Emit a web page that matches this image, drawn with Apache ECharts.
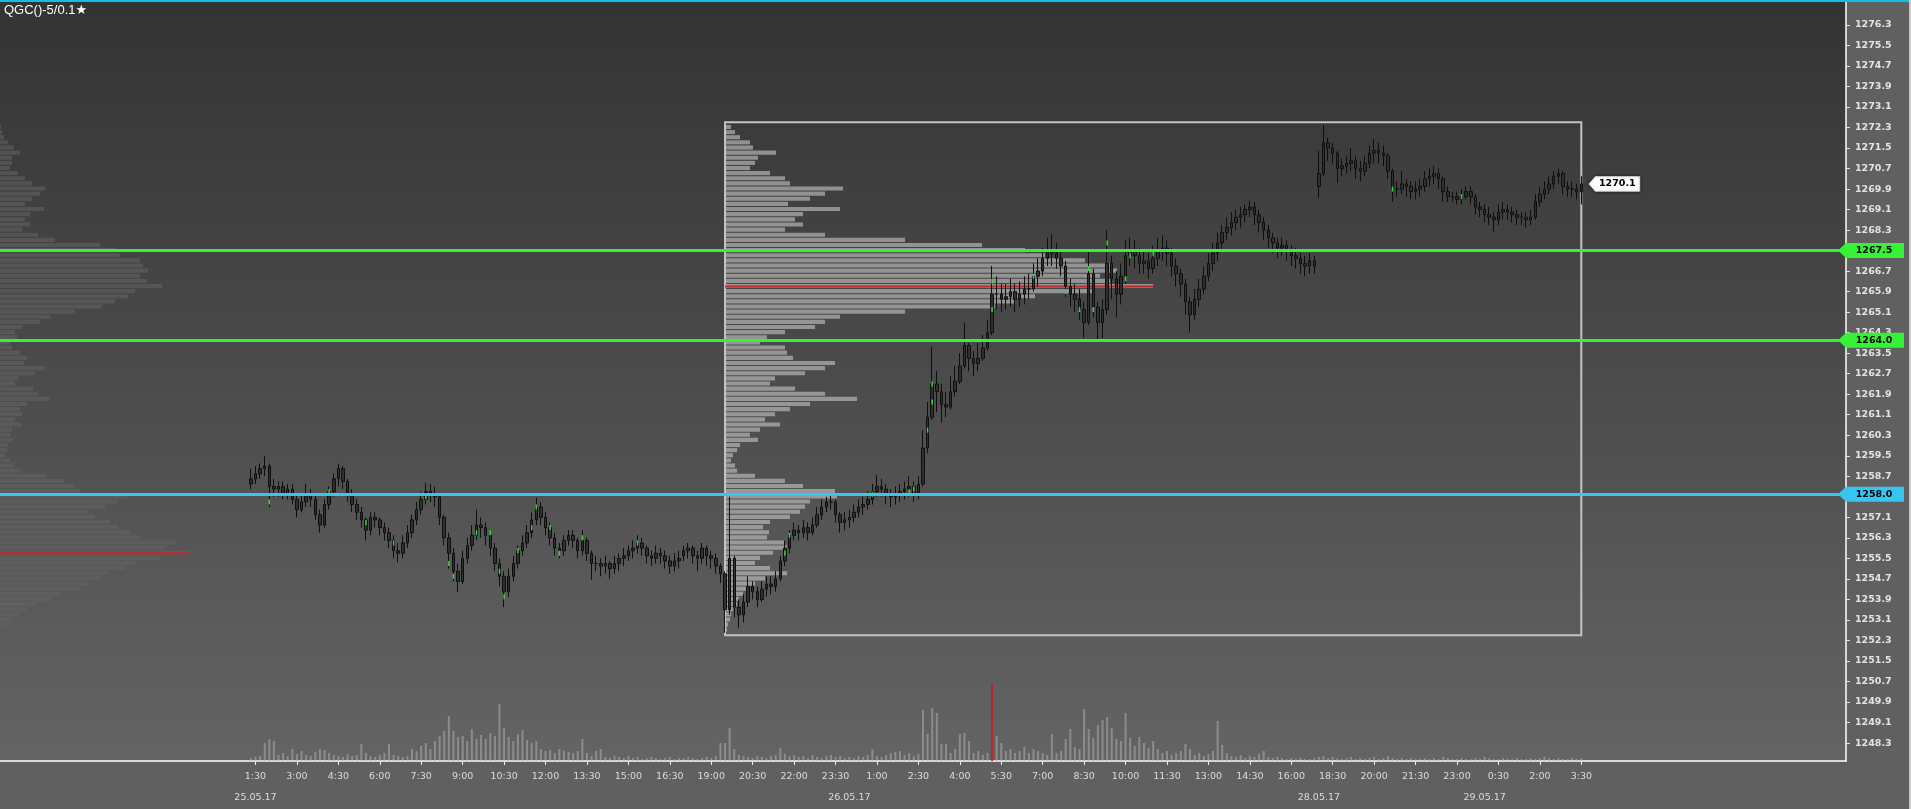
<!DOCTYPE html>
<html><head><meta charset="utf-8">
<script src="https://cdn.jsdelivr.net/npm/echarts@6/dist/echarts.min.js"></script>
<style>html,body{margin:0;padding:0;background:#606060;overflow:hidden}#c{width:1911px;height:809px}</style>
</head><body><div id="c"></div><script>
// ---------------- DATA ----------------
const sessions = [
  {startDate:'25.05.17', start:'01:20', bars:94},
  {startDate:'25.05.17', start:'18:00', bars:138},
  {startDate:'28.05.17', start:'18:00', bars:58}
];
const timeTickLabels = ['1:30','3:00','4:30','6:00','7:30','9:00','10:30','12:00','13:30','15:00','16:30','19:00','20:30','22:00','23:30','1:00','2:30','4:00','5:30','7:00','8:30','10:00','11:30','13:00','14:30','16:00','18:30','20:00','21:30','23:00','0:30','2:00','3:30'];
const dateLabels = ['25.05.17','26.05.17','28.05.17','29.05.17'];
const yTickValues = [1248.3,1249.1,1249.9,1250.7,1251.5,1252.3,1253.1,1253.9,1254.7,1255.5,1256.3,1257.1,1257.9,1258.7,1259.5,1260.3,1261.1,1261.9,1262.7,1263.5,1264.3,1265.1,1265.9,1266.7,1267.5,1268.3,1269.1,1269.9,1270.7,1271.5,1272.3,1273.1,1273.9,1274.7,1275.5,1276.3];

// [open, close, low, high] per 10-minute bar
const day1Bars = [
[1258.4,1258.6,1258.2,1259.0],[1258.6,1258.8,1258.4,1259.1],[1258.8,1259.0,1258.6,1259.2],[1259.0,1259.1,1258.7,1259.5],[1259.1,1258.3,1257.5,1259.2],
[1258.3,1258.2,1257.9,1258.6],[1258.2,1258.3,1257.9,1258.5],[1258.3,1258.0,1257.8,1258.5],[1258.0,1258.2,1257.8,1258.4],[1258.2,1257.8,1257.6,1258.4],
[1257.8,1257.4,1257.1,1258.0],[1257.4,1257.7,1257.3,1258.0],[1257.7,1258.0,1257.5,1258.4],[1258.0,1257.8,1257.5,1258.2],[1257.8,1257.2,1257.0,1258.0],
[1257.2,1256.8,1256.5,1257.4],[1256.8,1257.6,1256.7,1257.8],[1257.6,1258.1,1257.4,1258.3],[1258.1,1258.6,1257.9,1258.8],[1258.6,1259.0,1258.3,1259.2],
[1259.0,1258.5,1258.2,1259.1],[1258.5,1258.0,1257.7,1258.6],[1258.0,1257.6,1257.3,1258.2],[1257.6,1257.3,1257.0,1257.8],[1257.3,1257.0,1256.7,1257.5],
[1257.0,1256.6,1256.2,1257.1],[1256.6,1257.1,1256.4,1257.3],[1257.1,1257.0,1256.7,1257.3],[1257.0,1256.7,1256.4,1257.1],[1256.7,1256.5,1256.2,1256.9],
[1256.5,1256.2,1255.9,1256.7],[1256.2,1255.8,1255.5,1256.4],[1255.8,1255.7,1255.35,1256.1],[1255.7,1256.1,1255.5,1256.4],[1256.1,1256.5,1255.9,1256.8],
[1256.5,1257.0,1256.3,1257.2],[1257.0,1257.4,1256.8,1257.7],[1257.4,1257.8,1257.2,1258.1],[1257.8,1258.1,1257.6,1258.45],[1258.1,1258.0,1257.7,1258.4],
[1258.0,1257.9,1257.5,1258.3],[1257.9,1257.1,1256.8,1258.0],[1257.1,1256.3,1256.0,1257.2],[1256.3,1255.7,1255.1,1256.5],[1255.7,1255.0,1254.6,1255.9],
[1255.0,1254.6,1254.2,1255.3],[1254.6,1255.5,1254.5,1255.8],[1255.5,1256.0,1255.3,1256.3],[1256.0,1256.4,1255.8,1256.8],[1256.4,1256.8,1256.2,1257.4],
[1256.8,1256.7,1256.3,1257.1],[1256.7,1256.4,1256.0,1256.9],[1256.4,1255.9,1255.6,1256.6],[1255.9,1255.3,1255.0,1256.1],[1255.3,1254.8,1254.4,1255.5],
[1254.8,1254.2,1253.6,1255.0],[1254.2,1254.8,1254.0,1255.1],[1254.8,1255.3,1254.6,1255.6],[1255.3,1255.8,1255.1,1256.0],[1255.8,1256.1,1255.6,1256.4],
[1256.1,1256.5,1255.9,1256.8],[1256.5,1257.0,1256.3,1257.3],[1257.0,1257.5,1256.8,1257.86],[1257.5,1257.1,1256.8,1257.7],[1257.1,1256.7,1256.4,1257.3],
[1256.7,1256.3,1256.0,1256.9],[1256.3,1255.9,1255.6,1256.5],[1255.9,1255.8,1255.5,1256.1],[1255.8,1256.2,1255.6,1256.4],[1256.2,1256.4,1256.0,1256.6],
[1256.4,1256.2,1255.9,1256.6],[1256.2,1255.8,1255.5,1256.3],[1255.8,1256.2,1255.6,1256.6],[1256.2,1255.7,1255.4,1256.3],[1255.7,1255.3,1254.67,1255.8],
[1255.3,1255.3,1255.0,1255.6],[1255.3,1255.2,1254.8,1255.5],[1255.2,1255.3,1254.9,1255.6],[1255.3,1255.1,1254.7,1255.4],[1255.1,1255.3,1254.9,1255.6],
[1255.3,1255.5,1255.0,1255.7],[1255.5,1255.6,1255.2,1255.9],[1255.6,1255.8,1255.4,1256.0],[1255.8,1255.9,1255.5,1256.2],[1255.9,1256.1,1255.7,1256.4],
[1256.1,1255.9,1255.6,1256.3],[1255.9,1255.6,1255.3,1256.0],[1255.6,1255.5,1255.2,1255.8],[1255.5,1255.7,1255.3,1256.0],[1255.7,1255.6,1255.3,1255.9],
[1255.6,1255.4,1255.1,1255.8],[1255.4,1255.2,1254.9,1255.6],[1255.2,1255.4,1255.0,1255.7],[1255.4,1255.5,1255.1,1255.8]
];
const day2Bars = [
[1255.6,1255.8,1255.4,1256.0],[1255.8,1255.9,1255.5,1256.1],[1255.9,1255.6,1255.3,1256.0],[1255.6,1255.5,1255.0,1255.8],[1255.5,1255.9,1255.3,1256.1],
[1255.9,1255.6,1255.2,1256.0],[1255.6,1255.5,1255.1,1255.8],[1255.5,1255.2,1254.9,1255.7],[1255.2,1254.9,1254.55,1255.3],[1254.9,1253.5,1252.6,1255.0],
[1253.5,1255.5,1253.3,1257.9],[1255.5,1253.6,1253.2,1255.6],[1253.6,1253.3,1252.8,1253.9],[1253.3,1253.8,1253.0,1254.1],[1253.8,1254.4,1253.6,1254.8],
[1254.4,1254.2,1253.9,1254.6],[1254.2,1253.9,1253.6,1254.4],[1253.9,1254.3,1253.8,1254.6],[1254.3,1254.5,1254.0,1254.8],[1254.5,1254.4,1254.1,1254.8],
[1254.4,1254.7,1254.2,1255.0],[1254.7,1255.4,1254.6,1255.6],[1255.4,1255.9,1255.2,1256.2],[1255.9,1256.4,1255.7,1256.6],[1256.4,1256.6,1256.2,1256.9],
[1256.6,1256.5,1256.2,1256.8],[1256.5,1256.7,1256.3,1257.0],[1256.7,1256.5,1256.2,1256.9],[1256.5,1256.8,1256.4,1257.1],[1256.8,1257.2,1256.7,1257.5],
[1257.2,1257.5,1257.0,1257.8],[1257.5,1257.7,1257.3,1257.9],[1257.7,1257.7,1257.4,1258.05],[1257.7,1257.2,1256.9,1257.8],[1257.2,1256.9,1256.5,1257.3],
[1256.9,1257.0,1256.6,1257.3],[1257.0,1257.1,1256.7,1257.4],[1257.1,1257.3,1256.9,1257.6],[1257.3,1257.5,1257.1,1257.8],[1257.5,1257.6,1257.2,1257.9],
[1257.6,1257.8,1257.4,1258.1],[1257.8,1258.1,1257.6,1258.4],[1258.1,1258.3,1257.9,1258.75],[1258.3,1258.2,1257.9,1258.6],[1258.2,1258.0,1257.6,1258.4],
[1258.0,1257.9,1257.5,1258.2],[1257.9,1258.0,1257.6,1258.3],[1258.0,1258.1,1257.7,1258.4],[1258.1,1258.2,1257.8,1258.5],[1258.2,1258.3,1257.9,1258.7],
[1258.3,1258.0,1257.7,1258.5],[1258.0,1258.4,1257.8,1258.7],[1258.4,1259.8,1258.3,1260.5],[1259.8,1261.0,1259.6,1261.6],[1261.0,1262.3,1260.9,1263.75],
[1262.3,1262.0,1261.2,1262.8],[1262.0,1261.5,1260.8,1262.3],[1261.5,1261.4,1261.0,1262.0],[1261.4,1262.0,1261.3,1262.6],[1262.0,1262.4,1261.8,1263.0],
[1262.4,1263.0,1262.3,1263.5],[1263.0,1263.8,1262.9,1264.7],[1263.8,1263.3,1262.8,1263.9],[1263.3,1263.1,1262.6,1263.6],[1263.1,1263.3,1262.8,1263.9],
[1263.3,1263.7,1263.2,1264.2],[1263.7,1264.3,1263.6,1264.8],[1264.3,1265.8,1264.2,1266.9],[1265.8,1265.8,1265.2,1266.5],[1265.8,1265.6,1265.1,1266.2],
[1265.6,1265.7,1265.2,1266.2],[1265.7,1265.9,1265.3,1266.4],[1265.9,1265.6,1265.1,1266.2],[1265.6,1265.8,1265.3,1266.3],[1265.8,1266.0,1265.4,1266.5],
[1266.0,1266.0,1265.6,1266.6],[1266.0,1266.5,1265.9,1267.0],[1266.5,1266.7,1266.1,1267.2],[1266.7,1267.2,1266.5,1267.6],[1267.2,1267.5,1266.9,1268.0],
[1267.5,1267.4,1266.9,1268.15],[1267.4,1267.2,1266.8,1267.8],[1267.2,1266.9,1266.5,1267.5],[1266.9,1266.1,1265.7,1267.1],[1266.1,1265.8,1265.3,1266.4],
[1265.8,1265.6,1265.1,1266.2],[1265.6,1265.2,1264.8,1266.0],[1265.2,1264.7,1264.1,1265.5],[1264.7,1266.6,1264.6,1267.5],[1266.6,1265.3,1264.9,1266.8],
[1265.3,1264.7,1264.0,1265.5],[1264.7,1265.2,1264.1,1265.6],[1265.2,1267.0,1265.0,1268.3],[1267.0,1266.4,1265.6,1267.3],[1266.4,1265.8,1264.9,1266.7],
[1265.8,1266.5,1265.4,1267.0],[1266.5,1267.3,1266.2,1267.9],[1267.3,1267.5,1266.9,1268.0],[1267.5,1267.3,1266.8,1267.9],[1267.3,1267.0,1266.6,1267.6],
[1267.0,1267.1,1266.6,1267.5],[1267.1,1266.8,1266.4,1267.4],[1266.8,1267.2,1266.6,1267.7],[1267.2,1267.5,1266.9,1268.0],[1267.5,1267.6,1267.1,1268.1],
[1267.6,1267.4,1266.9,1267.9],[1267.4,1266.9,1266.5,1267.6],[1266.9,1266.6,1266.1,1267.2],[1266.6,1266.2,1265.7,1266.8],[1266.2,1265.5,1265.0,1266.4],
[1265.5,1265.0,1264.3,1265.7],[1265.0,1265.6,1264.8,1266.0],[1265.6,1266.0,1265.3,1266.4],[1266.0,1266.5,1265.8,1266.9],[1266.5,1267.0,1266.3,1267.4],
[1267.0,1267.4,1266.7,1267.8],[1267.4,1267.8,1267.1,1268.2],[1267.8,1268.2,1267.5,1268.5],[1268.2,1268.4,1267.9,1268.8],[1268.4,1268.6,1268.1,1269.0],
[1268.6,1268.8,1268.3,1269.1],[1268.8,1268.9,1268.4,1269.2],[1268.9,1269.1,1268.6,1269.3],[1269.1,1269.2,1268.8,1269.45],[1269.2,1268.9,1268.5,1269.4],
[1268.9,1268.6,1268.2,1269.1],[1268.6,1268.3,1267.9,1268.8],[1268.3,1268.0,1267.6,1268.5],[1268.0,1267.8,1267.4,1268.2],[1267.8,1267.6,1267.2,1268.0],
[1267.6,1267.7,1267.3,1268.0],[1267.7,1267.5,1267.1,1267.9],[1267.5,1267.3,1266.9,1267.7],[1267.3,1267.2,1266.8,1267.6],[1267.2,1267.0,1266.6,1267.4],
[1267.0,1266.9,1266.5,1267.3],[1266.9,1267.1,1266.6,1267.4],[1267.1,1266.9,1266.6,1267.3]
];
const day3Bars = [
[1270.0,1270.5,1269.55,1271.4],[1270.5,1271.7,1270.4,1272.4],[1271.7,1271.5,1271.0,1271.9],[1271.5,1271.3,1270.9,1271.7],[1271.3,1270.7,1270.14,1271.4],
[1270.7,1270.8,1270.4,1271.1],[1270.8,1270.9,1270.5,1271.2],[1270.9,1271.0,1270.6,1271.5],[1271.0,1270.7,1270.3,1271.2],[1270.7,1270.6,1270.2,1271.0],
[1270.6,1270.9,1270.4,1271.2],[1270.9,1271.3,1270.7,1271.6],[1271.3,1271.4,1270.9,1271.85],[1271.4,1271.3,1270.9,1271.7],[1271.3,1271.2,1270.8,1271.6],
[1271.2,1270.6,1270.3,1271.3],[1270.6,1269.9,1269.4,1270.7],[1269.9,1269.9,1269.6,1270.2],[1269.9,1270.1,1269.7,1270.6],[1270.1,1270.0,1269.6,1270.3],
[1270.0,1269.8,1269.5,1270.2],[1269.8,1269.9,1269.5,1270.2],[1269.9,1270.0,1269.6,1270.3],[1270.0,1270.3,1269.8,1270.6],[1270.3,1270.4,1270.0,1270.7],
[1270.4,1270.5,1270.1,1270.8],[1270.5,1270.3,1269.9,1270.7],[1270.3,1269.8,1269.4,1270.4],[1269.8,1269.6,1269.4,1270.0],[1269.6,1269.6,1269.4,1269.8],
[1269.6,1269.5,1269.3,1269.8],[1269.5,1269.6,1269.3,1269.9],[1269.6,1269.8,1269.5,1270.0],[1269.8,1269.6,1269.3,1270.0],[1269.6,1269.2,1268.9,1269.7],
[1269.2,1269.1,1268.8,1269.4],[1269.1,1268.9,1268.6,1269.3],[1268.9,1268.8,1268.5,1269.2],[1268.8,1268.7,1268.23,1269.0],[1268.7,1269.0,1268.5,1269.3],
[1269.0,1269.1,1268.7,1269.4],[1269.1,1269.0,1268.7,1269.3],[1269.0,1268.9,1268.6,1269.2],[1268.9,1268.8,1268.5,1269.1],[1268.8,1268.8,1268.5,1269.0],
[1268.8,1268.7,1268.4,1269.0],[1268.7,1268.8,1268.5,1269.1],[1268.8,1269.4,1268.7,1269.7],[1269.4,1269.7,1269.2,1270.0],[1269.7,1269.9,1269.5,1270.2],
[1269.9,1270.1,1269.7,1270.4],[1270.1,1270.4,1269.9,1270.6],[1270.4,1270.5,1270.1,1270.7],[1270.5,1270.0,1269.7,1270.6],[1270.0,1269.9,1269.6,1270.2],
[1269.9,1269.9,1269.6,1270.2],[1269.9,1269.8,1269.5,1270.1],[1269.8,1270.1,1269.3,1270.4]
];
// traded volume per bar (relative units)
const day1Vol = [30,40,50,180,220,200,60,80,50,120, 70,100,60,50,90,120,110,80,60,50, 40,70,50,60,170,80,50,40,60,80,
 170,60,50,40,50,120,100,150,180,120, 200,250,300,450,300,240,250,200,320,220, 260,220,280,250,570,330,240,200,270,310,
 210,180,200,120,100,110,80,120,100,90, 80,100,220,80,50,100,120,40,30,50, 40,30,50,30,40,20,30,40,30,20, 30,40,20,30];
const day2Vol = [30,40,30,20,30,40,30,50,180,180, 330,120,60,50,40,30,50,40,30,50, 60,130,70,50,60,40,50,30,60,40,
 30,50,60,40,50,30,40,30,50,40, 60,120,50,40,60,80,90,100,60,80, 50,70,510,270,530,480,170,170,80,120,
 270,280,200,80,100,60,80,780,250,180, 100,120,80,100,140,80,120,100,80,60, 270,80,100,220,320,140,120,520,320,230,
 360,410,440,330,220,200,480,230,150,240, 180,130,200,120,80,100,60,80,100,170, 120,60,80,50,70,100,400,160,80,50,
 40,60,30,50,40,70,100,40,30,40, 30,20,30,20,30,20,20,30];
const day3Vol = [40,50,30,40,30,20,30,40,20,30, 20,30,40,20,30,50,30,20,30,20, 30,20,20,30,20,30,20,40,30,20,
 20,30,20,20,30,20,40,30,20,20, 30,20,20,30,20,20,30,20,30,40, 30,20,30,20,20,30,20,30];

// volume-at-price profiles, 0.2 bins from the start price upward
const binSize = 0.2;
const leftProfileStart = 1252.8;
const leftProfileVol = [5,10,18,27,35,52,62,80,88,100, 108,125,135,160,190,165,175,140,130,118, 110,95,88,105,117,127,80,75,65,45,
 20,13,10,5,7,8,13,10,12,22, 15,22,20,27,50,38,33,15,18,35, 45,24,27,20,12,10,17,15,22,40,
 50,75,102,115,128,135,162,147,140,148, 143,140,120,115,100,55,38,22,30,25, 30,44,25,32,40,45,32,25,18,10,
 12,12,20,14,8,4,2,1];
const boxProfileStart = 1252.6;
const boxProfileVol = [2,3,5,6,8,12,14,18,25,30, 40,62,45,30,35,48,62,60,42,44, 38,45,65,75,80,85,112,110,78,60,
 30,12,10,6,8,12,15,33,25,35, 55,40,50,65,85,132,100,70,45,50, 80,100,110,68,62,60,35,42,60,90,
 100,115,180,270,290,310,370,428,385,375, 392,385,360,320,300,257,180,100,60,78, 70,78,115,63,85,100,118,65,60,45,
 25,30,33,51,28,25,15,10,6];
const profileBox = {fromBar:103, toBar:289, top:1272.5, bottom:1252.5};
const priceLevels = [1267.5, 1264.0, 1258.0];
// green cluster highlights on bars: [bar number, price]
const clusterMarks = [[4,1257.7],[17,1258.1],[25,1256.9],[31,1256.1],[38,1257.9],[43,1255.3],[44,1254.8],[49,1256.5],[52,1256.5],[54,1255.0],
 [55,1254.0],[58,1255.8],[61,1256.7],[62,1257.5],[65,1256.7],[67,1255.7],[72,1256.3],[84,1256.1],[116,1255.7],[117,1256.4],
 [135,1258.0],[143,1258.1],[144,1258.2],[147,1260.5],[148,1262.3],[148,1261.6],[161,1266.3],[161,1265.2],[170,1266.5],[177,1265.9],
 [180,1265.2],[182,1266.8],[183,1265.2],[186,1267.8],[190,1266.4],[191,1267.3],[196,1267.4],[248,1269.9],[263,1269.6]];

// ---------------- LAYOUT / STYLE ----------------
const PAD_LEFT = 54, PAD_RIGHT = 57;
const yMin = 1247.6, yMax = 1277.27;
const levelColors = ['#36f236', '#36f236', '#36c6f0'];

function buildTimes(){
  const out = [];
  sessions.forEach(s => {
    const [d, m, y] = s.startDate.split('.').map(Number);
    const t0 = Date.UTC(2000 + y, m - 1, d, +s.start.slice(0, 2), +s.start.slice(3));
    for (let k = 0; k < s.bars; k++) {
      const t = new Date(t0 + k * 600000);
      out.push({
        date: String(t.getUTCDate()).padStart(2,'0') + '.' + String(t.getUTCMonth()+1).padStart(2,'0') + '.' + String(t.getUTCFullYear() % 100),
        time: t.getUTCHours() + ':' + String(t.getUTCMinutes()).padStart(2,'0')
      });
    }
  });
  return out;
}
const barTimes = buildTimes();
const bars = day1Bars.concat(day2Bars, day3Bars);
const vols = day1Vol.concat(day2Vol, day3Vol);
const categories = [];
for (let k = 0; k < PAD_LEFT; k++) categories.push('L' + k);
barTimes.forEach(t => categories.push(t.date + ' ' + t.time));
for (let k = 0; k < PAD_RIGHT; k++) categories.push('R' + k);

const timeAt = {}, dateAt = {};
{
  let tk = 0, dk = 0, prev = null;
  barTimes.forEach((t, i) => {
    const idx = PAD_LEFT + i;
    if (tk < timeTickLabels.length && t.time === timeTickLabels[tk]) { timeAt[idx] = timeTickLabels[tk]; tk++; }
    if (t.date !== prev && dk < dateLabels.length && t.date === dateLabels[dk]) {
      const target = (barTimes[i + 1] && barTimes[i + 1].time === timeTickLabels[tk]) ? idx + 1 : idx;
      dateAt[target] = dateLabels[dk]; dk++;
    }
    prev = t.date;
  });
}

const candleData = bars.map((b, i) => [PAD_LEFT + i, b[0], b[1], b[2], b[3]]);
const maxVol = Math.max(...vols);
const volData = vols.map((v, i) => ({value: [PAD_LEFT + i, v], itemStyle: {color: v === maxVol ? '#b3282b' : 'rgba(175,175,175,0.55)'}}));
const lastClose = day3Bars[day3Bars.length - 1][1];

function profileSeries(axisIdx, start, volsArr, fill){
  const maxV = Math.max(...volsArr);
  return {
    type: 'custom', xAxisIndex: axisIdx, yAxisIndex: axisIdx, z: 2, silent: true,
    data: volsArr.map((v, k) => [+(start + k * binSize).toFixed(1), v]),
    encode: {x: 1, y: 0},
    renderItem(params, api){
      const p = api.value(0), v = api.value(1);
      const a = api.coord([0, p + binSize]);
      const b = api.coord([v, p]);
      const children = [{type: 'rect', shape: {x: a[0], y: a[1], width: b[0] - a[0], height: Math.max(1, b[1] - a[1] - 1)}, style: {fill: fill}}];
      if (v === maxV) {
        const mid = api.coord([v, p + binSize / 2]);
        children.push({type: 'rect', shape: {x: a[0], y: mid[1] - 1, width: b[0] - a[0], height: 2}, style: {fill: '#c0282b'}});
      }
      return {type: 'group', children: children};
    }
  };
}

const chart = echarts.init(document.getElementById('c'), null, {renderer: 'canvas'});
const hidden = {show: false};
const flagLabel = {show: true, position: 'inside', offset: [3, 0], formatter: (p) => p.value[1].toFixed(1),
  color: '#000', fontWeight: 'bold', fontSize: 9.5, fontFamily: 'DejaVu Sans'};
chart.setOption({
  animation: false,
  backgroundColor: '#606060',
  textStyle: {fontFamily: 'DejaVu Sans'},
  grid: [
    {left: 0, right: 65, top: 0, bottom: 48, show: true, borderWidth: 0,
     backgroundColor: new echarts.graphic.LinearGradient(0, 0, 0, 1, [{offset: 0, color: '#333333'}, {offset: 1, color: '#646464'}])},
    {left: 0, right: 65, bottom: 48, height: 90},
    {left: 0, width: 250, top: 0, bottom: 48},
    {left: 725, width: 500, top: 0, bottom: 48},
    {left: 1838, right: 0, top: 0, bottom: 48}
  ],
  xAxis: [
    {type: 'category', gridIndex: 0, data: categories, boundaryGap: true,
     axisLine: {show: true, lineStyle: {color: '#ffffff', width: 1.5}},
     axisTick: {show: true, alignWithLabel: true, length: 4, lineStyle: {color: '#f0f0f0'}, interval: (i) => timeAt[i] !== undefined},
     axisLabel: {show: true, interval: (i) => timeAt[i] !== undefined || dateAt[i] !== undefined,
       formatter: (v, i) => (timeAt[i] || '') + (dateAt[i] ? '\n' + dateAt[i] : ''),
       color: '#dcdcdc', fontSize: 9.5, lineHeight: 21, margin: 5, fontFamily: 'DejaVu Sans'},
     splitLine: hidden},
    {type: 'category', gridIndex: 1, data: categories, boundaryGap: true, show: false},
    {type: 'value', gridIndex: 2, min: 0, max: 250, show: false},
    {type: 'value', gridIndex: 3, min: 0, max: 500, show: false},
    {type: 'value', gridIndex: 4, min: 0, max: 1, show: false}
  ],
  yAxis: [
    {type: 'value', gridIndex: 0, position: 'right', min: yMin, max: yMax,
     axisLine: {show: true, lineStyle: {color: '#ffffff', width: 1.5}},
     axisTick: {show: true, length: 4, customValues: yTickValues, lineStyle: {color: '#e0e0e0'}},
     axisLabel: {show: true, customValues: yTickValues, formatter: (v) => v.toFixed(1), color: '#e4e4e4',
       fontWeight: 'bold', fontSize: 9.5, margin: 9, fontFamily: 'DejaVu Sans'},
     splitLine: hidden},
    {type: 'value', gridIndex: 1, min: 0, max: 900, show: false},
    {type: 'value', gridIndex: 2, min: yMin, max: yMax, show: false},
    {type: 'value', gridIndex: 3, min: yMin, max: yMax, show: false},
    {type: 'value', gridIndex: 4, min: yMin, max: yMax, show: false}
  ],
  graphic: [
    {type: 'rect', left: 0, top: 0, shape: {width: 1911, height: 2}, style: {fill: '#14bde8'}, z: 100},
    {type: 'rect', left: 1909, top: 0, shape: {width: 2, height: 809}, style: {fill: '#c8c8c8'}, z: 100},
    {type: 'text', left: 4, top: 4, style: {text: 'QGC()-5/0.1★', fill: '#ffffff', font: '13px "Liberation Sans", "DejaVu Sans"'}, z: 100}
  ],
  series: [
    {type: 'line', xAxisIndex: 0, yAxisIndex: 0, data: [], z: 1, silent: true,
     markLine: {silent: true, symbol: 'none', label: {show: false}, animation: false,
       data: priceLevels.map((v, k) => ({yAxis: v, lineStyle: {color: levelColors[k], width: 3, type: 'solid', opacity: 1}}))}},
    profileSeries(2, leftProfileStart, leftProfileVol, 'rgba(100,100,100,0.55)'),
    profileSeries(3, boxProfileStart, boxProfileVol, 'rgba(200,200,200,0.6)'),
    {type: 'bar', xAxisIndex: 1, yAxisIndex: 1, data: volData, barWidth: 2, z: 2, silent: true},
    {type: 'candlestick', xAxisIndex: 0, yAxisIndex: 0, data: candleData, encode: {x: 0, y: [1, 2, 3, 4]},
     barWidth: 3, z: 3, silent: true,
     itemStyle: {color: '#303030', color0: '#303030', borderColor: '#0e0e0e', borderColor0: '#0e0e0e', borderWidth: 1},
     markArea: {silent: true, itemStyle: {color: 'rgba(0,0,0,0)', borderColor: '#c4c4c4', borderWidth: 2},
       data: [[{xAxis: categories[PAD_LEFT + profileBox.fromBar], yAxis: profileBox.top}, {xAxis: categories[PAD_LEFT + profileBox.toBar], yAxis: profileBox.bottom}]]}},
    {type: 'scatter', xAxisIndex: 0, yAxisIndex: 0, z: 4, silent: true, symbol: 'rect', symbolSize: [1.5, 5],
     itemStyle: {color: '#33ee33', opacity: 0.9}, data: clusterMarks.map(m => [PAD_LEFT + m[0], m[1]])},
    {type: 'scatter', xAxisIndex: 0, yAxisIndex: 0, z: 6, silent: true, clip: false,
     symbol: 'path://M0,8 L8,0 L60,0 L60,16 L8,16 Z', symbolSize: [52, 16], symbolOffset: [33, 0],
     itemStyle: {color: '#ffffff', opacity: 1, borderColor: '#333', borderWidth: 0.5, shadowColor: 'rgba(0,0,0,0.5)', shadowBlur: 3},
     label: flagLabel,
     data: [[PAD_LEFT + bars.length - 1, lastClose]]},
    {type: 'scatter', xAxisIndex: 4, yAxisIndex: 4, z: 6, silent: true, clip: false,
     symbol: 'path://M0,8 L8,0 L66,0 L66,16 L8,16 Z', symbolSize: [66, 15], symbolOffset: [33, 0],
     label: flagLabel,
     data: priceLevels.map((v, k) => ({value: [0, v], itemStyle: {color: levelColors[k], opacity: 1}}))}
  ]
});
</script></body></html>
